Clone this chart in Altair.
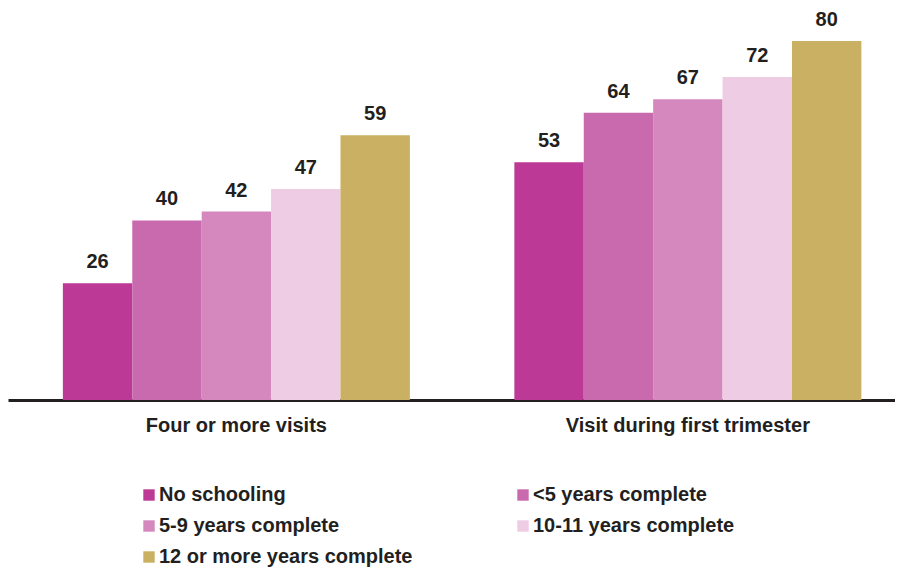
import altair as alt
import pandas as pd

categories = ["Four or more visits", "Visit during first trimester"]
groups = ["No schooling", "<5 years complete", "5-9 years complete",
          "10-11 years complete", "12 or more years complete"]
four_visits = [26, 40, 42, 47, 59]
first_trimester = [53, 64, 67, 72, 80]
colors = ["#BC3A96", "#C96AAE", "#D588BE", "#EDCCE4", "#C9B062"]

rows = []
for cat, vals in zip(categories, [four_visits, first_trimester]):
    for g, v in zip(groups, vals):
        rows.append({"category": cat, "group": g, "value": v})
df = pd.DataFrame(rows)

FONT = "Liberation Sans"

base = alt.Chart(df).encode(
    x=alt.X("category:N", sort=categories, title=None,
            scale=alt.Scale(paddingInner=0.2314, paddingOuter=0.098, align=0.62),
            axis=alt.Axis(labelAngle=0, labelFont=FONT, labelFontSize=20,
                          labelFontWeight="bold", labelColor="#231F20",
                          labelPadding=15, labelLimit=400, ticks=False,
                          domainColor="#231F20", domainWidth=3, grid=False)),
    xOffset=alt.XOffset("group:N", sort=groups,
                        scale=alt.Scale(paddingInner=0, paddingOuter=0)),
    y=alt.Y("value:Q", title=None,
            scale=alt.Scale(domain=[0, 87.35], nice=False),
            axis=None),
)

bars = base.mark_bar().encode(
    color=alt.Color("group:N", sort=groups,
                    scale=alt.Scale(domain=groups, range=colors),
                    legend=alt.Legend(title=None, orient="none", legendX=131, legendY=477,
                                      direction="horizontal",
                                      columns=2, columnPadding=100, rowPadding=11,
                                      symbolType="square", symbolSize=130,
                                      symbolStrokeWidth=0, symbolOpacity=1,
                                      labelFont=FONT, labelFontSize=20,
                                      labelFontWeight="bold", labelColor="#231F20",
                                      labelOffset=0, labelLimit=400)),
)

labels = base.mark_text(baseline="bottom", dy=-11, font=FONT, fontSize=20,
                        fontWeight="bold", color="#231F20").encode(
    text=alt.Text("value:Q"),
)

chart = (bars + labels).properties(
    width=887, height=392, padding=0
).configure_view(stroke=None)

chart.save("out.html", embed_options={"renderer": "svg", "actions": False})
